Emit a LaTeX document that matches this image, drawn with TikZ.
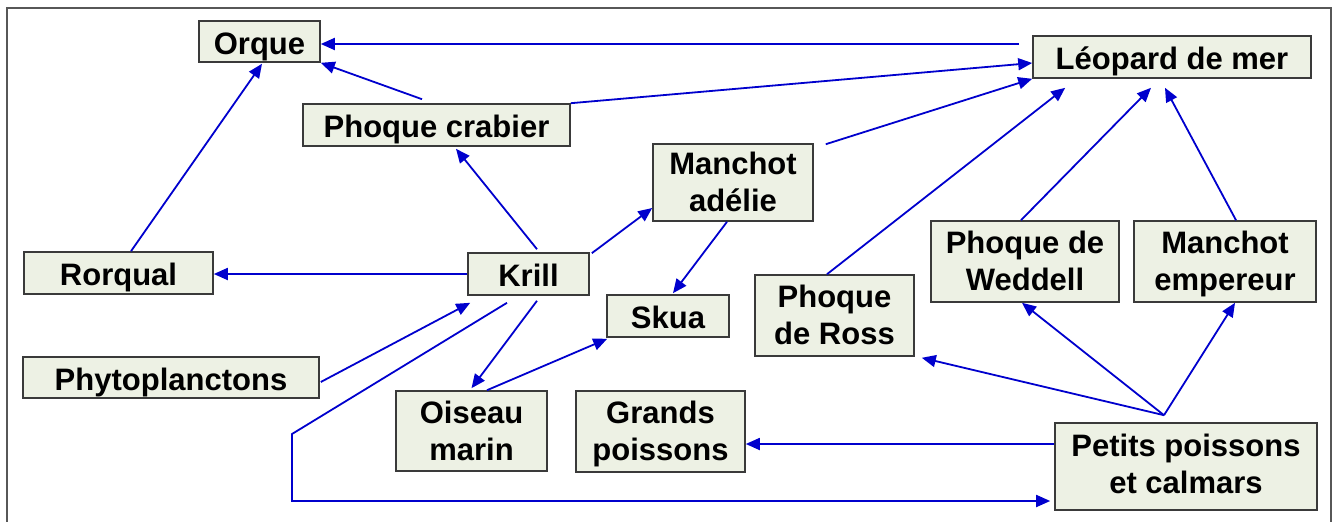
\documentclass[tikz,border=0pt]{standalone}
\usepackage{fontspec}
\setmainfont{Liberation Sans}
\usetikzlibrary{arrows.meta}
\definecolor{linkblue}{RGB}{0,0,205}
\definecolor{boxfill}{HTML}{EDF1E4}
\definecolor{boxline}{HTML}{3A3A3A}
\tikzset{espece/.style={draw=boxline, fill=boxfill, line width=1.6pt, inner sep=0pt, align=center,
    font=\fontsize{31}{37}\selectfont\bfseries},
  une/.style={espece, text height=25pt, text depth=0pt},
  deux/.style={espece, text height=60pt, text depth=2pt},
  lien/.style={linkblue, line width=1.8pt, -{Triangle[length=14pt,width=12pt]}}}

\begin{document}
\begin{tikzpicture}[x=1pt, y=-1pt]
  \useasboundingbox (0,0) rectangle (1334,522);
  \draw[boxline!85, line width=2pt] (7,522) -- (7,7.5) -- (1331,7.5) -- (1331,522);
  % especes
  \node[une,  minimum width=121, minimum height=41] (orque)    at ( 259.5, 41.5) {Orque};
  \node[une,  minimum width=267, minimum height=42] (crabier)  at ( 436.5,125.0) {Phoque crabier};
  \node[une,  minimum width=278, minimum height=42] (leo)      at (1172.0, 57.0) {Léopard de mer};
  \node[deux, minimum width=160, minimum height=77] (adelie)   at ( 733.0,182.5) {Manchot\\adélie};
  \node[deux, minimum width=188, minimum height=81] (weddell)  at (1025.0,261.5) {Phoque de\\Weddell};
  \node[deux, minimum width=182, minimum height=81] (empereur) at (1225.0,261.5) {Manchot\\empereur};
  \node[une,  minimum width=189, minimum height=42] (rorqual)  at ( 118.5,273.0) {Rorqual};
  \node[une,  minimum width=121, minimum height=42] (krill)    at ( 528.5,274.0) {Krill};
  \node[une,  minimum width=122, minimum height=42] (skua)     at ( 668.0,316.0) {Skua};
  \node[deux, minimum width=159, minimum height=81] (ross)     at ( 834.5,315.5) {Phoque\\de Ross};
  \node[une,  minimum width=296, minimum height=41] (phyto)    at ( 171.0,377.5) {Phytoplanctons};
  \node[deux, minimum width=151, minimum height=80] (oiseau)   at ( 471.5,431.0) {Oiseau\\marin};
  \node[deux, minimum width=169, minimum height=81] (grands)   at ( 660.5,431.5) {Grands\\poissons};
  \node[deux, minimum width=262, minimum height=87, text height=55pt] (petits) at (1186.0,466.5) {Petits poissons\\et calmars};
  \coordinate (fan) at ([shift={(-22,-7)}]petits.north);
  \coordinate (coinA) at (292,434);
  \coordinate (coinB) at (292,501);
  % liens
  \draw[lien] ([shift={(-13,-13)}]leo.west) -- ([shift={(0,2.5)}]orque.east);
  \draw[lien] ([shift={(-14.5,-4)}]crabier.north) -- (orque.south east);
  \draw[lien] (crabier.north east) -- ([shift={(0,6)}]leo.west);
  \draw[lien] ([shift={(12,1)}]adelie.north east) -- (leo.south west);
  \draw[lien] ([shift={(-7.5,0)}]ross.north) -- ([shift={(33,9)}]leo.south west);
  \draw[lien] ([shift={(-4,0)}]weddell.north) -- ([shift={(-21,9)}]leo.south);
  \draw[lien] ([shift={(11,0)}]empereur.north) -- ([shift={(-7,9)}]leo.south);
  \draw[lien] ([shift={(12.5,0)}]rorqual.north) -- ([shift={(2.5,1)}]orque.south);
  \draw[lien] (krill.west) -- (krill.west -| rorqual.east);
  \draw[lien] ([shift={(8.5,-3)}]krill.north) -- ([shift={(19.5,2)}]crabier.south);
  \draw[lien] ([shift={(2,1)}]krill.north east) -- ([shift={(0,25.5)}]adelie.west);
  \draw[lien] ([shift={(-6,0)}]adelie.south) -- ([shift={(5,-1)}]skua.north);
  \draw[lien] ([shift={(1,4.5)}]phyto.east) -- ([shift={(3,7)}]krill.south west);
  \draw[lien] ([shift={(8.5,5)}]krill.south) -- ([shift={(0,-2)}]oiseau.north);
  \draw[lien] ([shift={(15.5,0)}]oiseau.north) -- ([shift={(1,1)}]skua.south west);
  \draw[lien, shorten >=4pt] ([shift={(-21.5,7)}]krill.south) -- (coinA) -- (coinB) -- (coinB -| petits.west);
  \draw[lien] ([shift={(0,-22.5)}]petits.west) -- ([shift={(0,12.5)}]grands.east);
  \draw[lien] (fan) -- ([shift={(7,1)}]ross.south east);
  \draw[lien] (fan) -- ([shift={(-3,0)}]weddell.south);
  \draw[lien] (fan) -- ([shift={(10,0)}]empereur.south);
\end{tikzpicture}
\end{document}
